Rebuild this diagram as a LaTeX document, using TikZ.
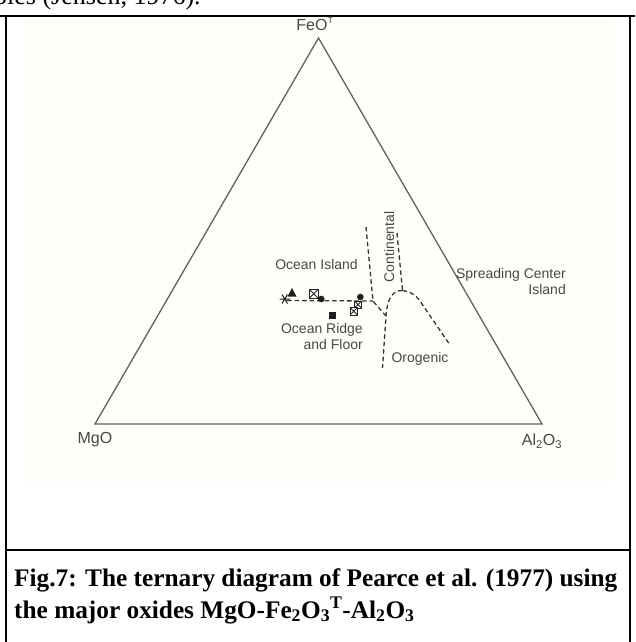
\documentclass[tikz,border=0pt]{standalone}
\usepackage{fontspec}
\setmainfont{Liberation Serif}
\newfontfamily\plotfont{Liberation Sans}
\definecolor{figtone}{RGB}{255,255,249}
\begin{document}
\begin{tikzpicture}[x=1pt,y=-1pt,
  side/.style={draw=black!62, line width=1.3pt},
  field/.style={draw=black!80, line width=1.3pt, dash pattern=on 4.5pt off 3pt},
  lbl/.style={font=\plotfont\fontsize{14}{16}\selectfont, text=black!72, inner sep=0pt},
  vtx/.style={font=\plotfont\fontsize{16}{18}\selectfont, text=black!72, inner sep=0pt},
  rule/.style={draw=black, line width=2pt},
  mk/.style={fill=black!88, draw=none},
  boxmk/.style={draw=black!85, line width=0.9pt, fill=white}]
\useasboundingbox (0,0) rectangle (635,642);
\fill[white] (0,0) rectangle (635,642);
% faint tone of the plotted figure
\fill[figtone] (24,17) rectangle (612,482);

% running text above the table, cut by the page edge
\begin{scope}
  \clip (0,0) rectangle (635,13);
  \node[anchor=base west, inner sep=0pt, font=\fontsize{26}{30}\selectfont] (prev) at (-6,5) {ples (Jensen, 1976).};
\end{scope}

% table frame
\draw[rule] (0,16) -- (635,16);
\draw[rule] (6,16) -- (6,642);
\draw[rule] (630,16) -- (630,642);
\draw[rule] (6,550) -- (630,550);

% ternary frame
\coordinate (mg) at (95,424);
\coordinate (al) at (542,424);
\coordinate (fe) at (318.5,38);
\draw[side, line join=miter] (mg) -- (al) -- (fe) -- cycle;

\node[lbl, font=\plotfont\fontsize{16}{18}\selectfont] (feo) at (315,24) {FeO\textsuperscript{\fontsize{9}{10}\selectfont T}};
\node[vtx] (mgo) at (95,440) {MgO};
\node[vtx] (alo) at (542,441) {Al\textsubscript{2}O\textsubscript{3}};

% field boundaries
\coordinate (h0) at (287,300.5);
\coordinate (h1) at (373,301);
\coordinate (ct) at (366,227);
\coordinate (jn) at (386,316);
\coordinate (jb) at (382.5,368);
\coordinate (rt) at (397,233);
\coordinate (rk) at (402.5,290.5);
\coordinate (oe) at (450,345);
\draw[field] (h0) -- (h1);
\draw[field] (ct) -- (h1) -- (jn) -- (jb);
\draw[field] (rt) -- (rk);
\draw[field] (rk) .. controls (392,290) and (387,300) .. (jn);
\draw[field] (rk) .. controls (412,292) and (417,296) .. (422,304) -- (oe);

% field names
\node[lbl] (oi) at (316.5,264) {Ocean Island};
\node[lbl, align=right, anchor=east] (orf) at (363,336.5) {Ocean Ridge\\and Floor};
\node[lbl, rotate=90] (cont) at (389,247) {Continental};
\node[lbl] (oro) at (420,359) {Orogenic};
\node[lbl, align=right, anchor=east] (sci) at (566,281.5) {Spreading Center\\Island};

% sample symbols
\draw[black!88, line width=1pt] (279.5,299) -- (290,299) (282,294.5) -- (287.5,303.5) (282,303.5) -- (287.5,294.5);
\fill[mk] (292,288) -- (296.5,296.5) -- (287.5,296.5) -- cycle;
\draw[boxmk] (309.5,289.5) rectangle (318,298);
\draw[black!85, line width=0.8pt] (309.5,289.5) -- (318,298) (309.5,298) -- (318,289.5);
\fill[mk] (321.3,299) circle (3.3);
\fill[mk] (360.3,297) circle (3.3);
\draw[boxmk] (354.5,301) rectangle (361.5,308);
\draw[black!85, line width=0.8pt] (354.5,301) -- (361.5,308) (354.5,308) -- (361.5,301);
\draw[boxmk] (350,307.5) rectangle (357.5,315);
\draw[black!85, line width=0.8pt] (350,307.5) -- (357.5,315) (350,315) -- (357.5,307.5);
\fill[mk] (328.5,311.8) rectangle (335.5,318.8);

% caption
\node[anchor=base west, inner sep=0pt, font=\bfseries\fontsize{25.3}{32}\selectfont] (cap1) at (14,586) {Fig.7: The ternary diagram of Pearce et al. (1977) using};
\node[anchor=base west, inner sep=0pt, font=\bfseries\fontsize{25.3}{32}\selectfont] (cap2) at (14,618) {the major oxides MgO-Fe\textsubscript{2}O\textsubscript{3}\textsuperscript{T}-Al\textsubscript{2}O\textsubscript{3}};
\end{tikzpicture}
\end{document}
